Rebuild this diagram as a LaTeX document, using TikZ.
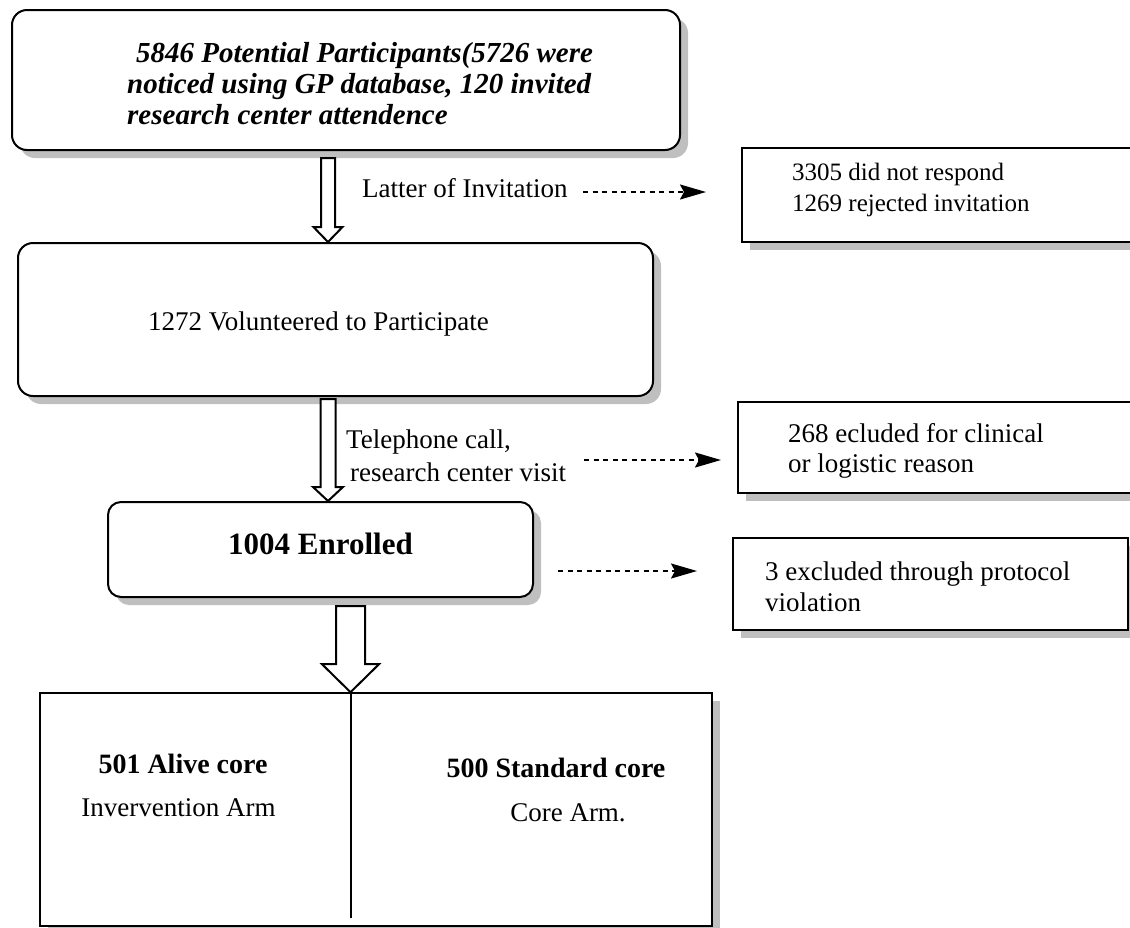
\documentclass[tikz,border=0pt]{standalone}
\usepackage{fontspec}
\setmainfont{Liberation Serif}
\usetikzlibrary{shadows,calc,arrows.meta}

\newcommand\fTop{\fontsize{29}{31}\selectfont\bfseries\itshape}
\newcommand\fReg{\fontsize{27}{31}\selectfont}
\newcommand\fRa{\fontsize{25}{31}\selectfont}
\newcommand\fRb{\fontsize{27}{30}\selectfont}
\newcommand\fRc{\fontsize{27}{31}\selectfont}
\newcommand\fRd{\fontsize{27}{33}\selectfont}
\newcommand\fEnr{\fontsize{31}{36}\selectfont\bfseries}
\newcommand\fArm{\fontsize{28}{32}\selectfont\bfseries}

\newcommand\hollowarrow[5]{%
  \draw[harrow] ($(#1)+(-#3,0)$) -- ($(#2)+(-#3,-#5)$) -- ($(#2)+(-#4,-#5)$) -- (#2)
     -- ($(#2)+(#4,-#5)$) -- ($(#2)+(#3,-#5)$) -- ($(#1)+(#3,0)$) -- cycle;}

\tikzset{
  shad/.style={drop shadow={shadow xshift=8pt,shadow yshift=-8pt,fill=black!25,opacity=1}},
  rbox/.style={draw, line width=2pt, rounded corners=15pt, fill=white, shad, inner sep=0pt},
  sbox/.style={draw, line width=2pt, fill=white, shad, inner sep=0pt},
  txt/.style={inner sep=0pt, align=left},
  harrow/.style={draw, line width=2pt, fill=white, line join=miter},
  darrow/.style={line width=2.2pt, dash pattern=on 5pt off 4.5pt,
     -{Stealth[length=26pt,width=15pt,inset=4pt]}},
  divline/.style={line width=2pt},
}

\begin{document}
\begin{tikzpicture}[x=1pt,y=-1pt]
\useasboundingbox (0,0) rectangle (1130,927);
\begin{scope}
\clip (0,0) rectangle (1130,927);
% boxes
\node[rbox, minimum width=668pt, minimum height=140pt] (a) at (346,80) {};
\node[rbox, minimum width=635pt, minimum height=153pt] (b) at (335.5,319.5) {};
\node[rbox, rounded corners=13pt, minimum width=425pt, minimum height=95pt] (c) at (320.5,549.5) {};
\node[sbox, minimum width=400pt, minimum height=94pt] (r1) at (942,195) {};
\node[sbox, minimum width=404pt, minimum height=91pt] (r2) at (940,447.5) {};
\node[sbox, minimum width=395pt, minimum height=92pt] (r3) at (930.5,584) {};
\node[sbox, line width=1.6pt, minimum width=672pt, minimum height=233pt] (d) at (376,809.5) {};

% texts
\node[txt, anchor=west, font=\fTop] (ta) at (127,84)
  {\hspace*{9pt}5846 Potential Participants(5726 were\\noticed using GP database, 120 invited\\research center attendence};
\node[txt, anchor=base west, font=\fReg] (tb) at (148,330) {1272 Volunteered to Participate};
\node[txt, anchor=base, font=\fEnr] (tc) at (320.5,554) {1004 Enrolled};
\node[txt, anchor=west, font=\fRa] (tr1) at (792,190) {3305 did not respond\\1269 rejected invitation};
\node[txt, anchor=west, font=\fRb] (tr2) at (788,451) {268 ecluded for clinical\\or logistic reason};
\node[txt, anchor=west, font=\fRc] (tr3) at (765,587.2) {3 excluded through protocol\\violation};
\node[txt, anchor=base west, font=\fReg] (l1) at (362,197) {Latter of Invitation};
\node[txt, anchor=west, font=\fRd] (l2) at (346,456) {Telephone call,\\\hspace*{4pt}research center visit};
\node[txt, anchor=base, font=\fArm] (d1) at (183,773) {501 Alive core};
\node[txt, anchor=base, font=\fReg] (d2) at (178.5,816) {Invervention Arm};
\node[txt, anchor=base, font=\fArm] (d3) at (556,777) {500 Standard core};
\node[txt, anchor=base, font=\fReg] (d4) at (568,821) {Core Arm.};

% hollow block arrows
\coordinate (x1) at (328,0);
\coordinate (x3) at (350.5,0);
\coordinate (a1s) at ($(a.south -| x1)+(0,7)$);
\coordinate (a1e) at (b.north -| x1);
\hollowarrow{a1s}{a1e}{7}{14.5}{15}
\coordinate (a2s) at ($(b.south -| x1)+(0,2)$);
\coordinate (a2e) at (c.north -| x1);
\hollowarrow{a2s}{a2e}{7.5}{15}{14}
\coordinate (a3s) at ($(c.south -| x3)+(0,8)$);
\coordinate (a3e) at (d.north -| x3);
\hollowarrow{a3s}{a3e}{14.5}{28.5}{28}

% divider in the last box
\coordinate (dv) at (351,918);
\draw[divline] (d.north -| dv) -- (dv);

% dashed arrows
\coordinate (s1) at (583,192); \coordinate (e1) at (706,192);
\coordinate (s2) at (584,460); \coordinate (e2) at (721,460);
\coordinate (s3) at (558,571); \coordinate (e3) at (697,571);
\draw[darrow] (s1) -- (e1);
\draw[darrow] (s2) -- (e2);
\draw[darrow] (s3) -- (e3);
\end{scope}
\end{tikzpicture}
\end{document}
